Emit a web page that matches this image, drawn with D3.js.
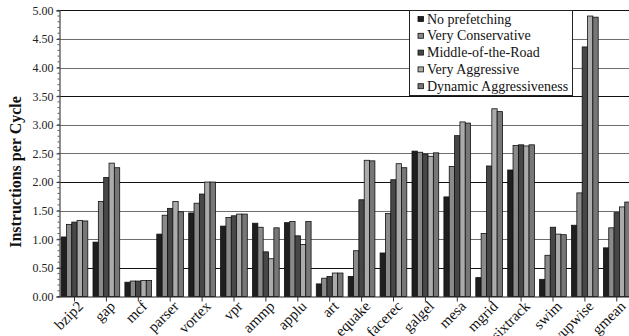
<!DOCTYPE html>
<html><head><meta charset="utf-8">
<script src="https://cdn.jsdelivr.net/npm/d3@7"></script>
<style>
html,body{margin:0;padding:0;background:#fff;overflow:hidden;}
svg text{font-family:"Liberation Serif","Times New Roman",serif;}
</style></head>
<body><svg id="c" width="629" height="336"></svg>
<script>
const categories = ["bzip2","gap","mcf","parser","vortex","vpr","ammp","applu","art","equake","facerec","galgel","mesa","mgrid","sixtrack","swim","wupwise","gmean"];
const seriesNames = ["No prefetching","Very Conservative","Middle-of-the-Road","Very Aggressive","Dynamic Aggressiveness"];
const noPrefetching      = [1.04,0.95,0.25,1.09,1.46,1.23,1.28,1.29,0.22,0.35,0.76,2.54,1.74,0.33,2.21,0.30,1.245,0.85];
const veryConservative   = [1.26,1.66,0.27,1.42,1.63,1.38,1.21,1.31,0.32,0.80,1.45,2.52,2.27,1.10,2.64,0.72,1.81,1.20];
const middleOfTheRoad    = [1.30,2.08,0.27,1.54,1.79,1.41,0.78,1.06,0.35,1.69,2.04,2.49,2.81,2.28,2.65,1.21,4.36,1.465];
const veryAggressive     = [1.33,2.33,0.28,1.66,2.00,1.44,0.66,0.91,0.41,2.38,2.32,2.45,3.05,3.28,2.63,1.09,4.90,1.565];
const dynamicAggressive  = [1.32,2.25,0.28,1.48,2.00,1.44,1.20,1.31,0.41,2.37,2.25,2.51,3.03,3.23,2.65,1.08,4.88,1.65];
const seriesValues = [noPrefetching, veryConservative, middleOfTheRoad, veryAggressive, dynamicAggressive];
const yTicks = [0,0.5,1,1.5,2,2.5,3,3.5,4,4.5,5];
const yAxisTitle = "Instructions per Cycle";

const FONT = "'Liberation Serif','Times New Roman',serif";
const colors = ["#1f1f1f","#8a8a8a","#474747","#ababab","#777777"];
const svg = d3.select("#c");
const mLeft = 59.5, mTop = 10.3, mBottom = 296.5, step = 31.9;

const y = d3.scaleLinear().domain([0,5]).range([mBottom, mTop]);
const x0 = d3.scaleBand().domain(categories).range([mLeft, mLeft + step*categories.length]).padding(0);
const x1 = d3.scaleBand().domain(d3.range(seriesNames.length)).range([1.6, 1.6 + 26.7]).padding(0);

// gridlines
svg.append("g").selectAll("line").data(yTicks.filter(d=>d>0)).join("line")
  .attr("x1", mLeft).attr("x2", 640)
  .attr("y1", d=>Math.round(y(d))+0.5).attr("y2", d=>Math.round(y(d))+0.5)
  .attr("stroke", (d,i)=> (i%3===0) ? "#111" : "#6e6e6e").attr("stroke-width",1);

// bars
const groups = svg.append("g").selectAll("g").data(categories).join("g")
  .attr("transform", d=>`translate(${x0(d)},0)`);
groups.selectAll("rect").data((c,ci)=>seriesValues.map((s,si)=>({si, v:s[ci]}))).join("rect")
  .attr("x", d=>x1(d.si)).attr("width", x1.bandwidth())
  .attr("y", d=>y(d.v)).attr("height", d=>y(0)-y(d.v))
  .attr("fill", d=>colors[d.si]).attr("stroke","#111").attr("stroke-width",0.8);

// y axis
const yAxis = d3.axisLeft(y).tickValues(yTicks).tickFormat(d3.format(".2f")).tickSize(3).tickPadding(3);
const gy = svg.append("g").attr("transform",`translate(${mLeft},0)`).call(yAxis);
gy.attr("font-family", FONT);
gy.select(".domain").attr("stroke","#444").attr("stroke-width",1.2);
gy.selectAll(".tick line").attr("stroke","#333");
gy.selectAll("text").attr("font-size",12).attr("fill","#222").style("font-family",FONT);
// minor ticks
svg.append("g").selectAll("line").data(d3.range(0,5.001,0.1)).join("line")
  .attr("x1", mLeft-2).attr("x2", mLeft)
  .attr("y1", d=>y(d)).attr("y2", d=>y(d)).attr("stroke","#333").attr("stroke-width",0.8);

// x axis baseline + ticks
svg.append("line").attr("x1",mLeft).attr("x2",640).attr("y1",mBottom+0.5).attr("y2",mBottom+0.5).attr("stroke","#222");
svg.append("g").selectAll("line").data(categories).join("line")
  .attr("x1", d=>x0(d)+15).attr("x2", d=>x0(d)+15)
  .attr("y1", mBottom).attr("y2", mBottom+5).attr("stroke","#333");
svg.append("g").selectAll("text").data(categories).join("text")
  .attr("transform", d=>`translate(${x0(d)+17},${mBottom+3}) rotate(-45)`)
  .attr("text-anchor","end").attr("dy","0.72em").attr("font-size",15).attr("fill","#111")
  .style("font-family",FONT)
  .text(d=>d);

// y title
svg.append("text").attr("transform","translate(21,172) rotate(-90)")
  .attr("text-anchor","middle").attr("font-size",16).attr("font-weight","bold").attr("fill","#111")
  .style("font-family",FONT)
  .text(yAxisTitle);

// legend
const lg = svg.append("g");
lg.append("rect").attr("x",409.5).attr("y",10.5).attr("width",163).attr("height",85)
  .attr("fill","#fff").attr("stroke","#222").attr("stroke-width",1);
const items = lg.selectAll("g.item").data(seriesNames).join("g").attr("class","item")
  .attr("transform",(d,i)=>`translate(418,${19+i*16.8})`);
items.append("rect").attr("x",0).attr("y",-2.5).attr("width",5.5).attr("height",5)
  .attr("fill",(d,i)=>colors[i]).attr("stroke","#111").attr("stroke-width",0.8);
items.append("text").attr("x",9).attr("y",0).attr("dy","0.33em").attr("font-size",14).attr("fill","#111")
  .style("font-family",FONT).text(d=>d);
</script></body></html>
